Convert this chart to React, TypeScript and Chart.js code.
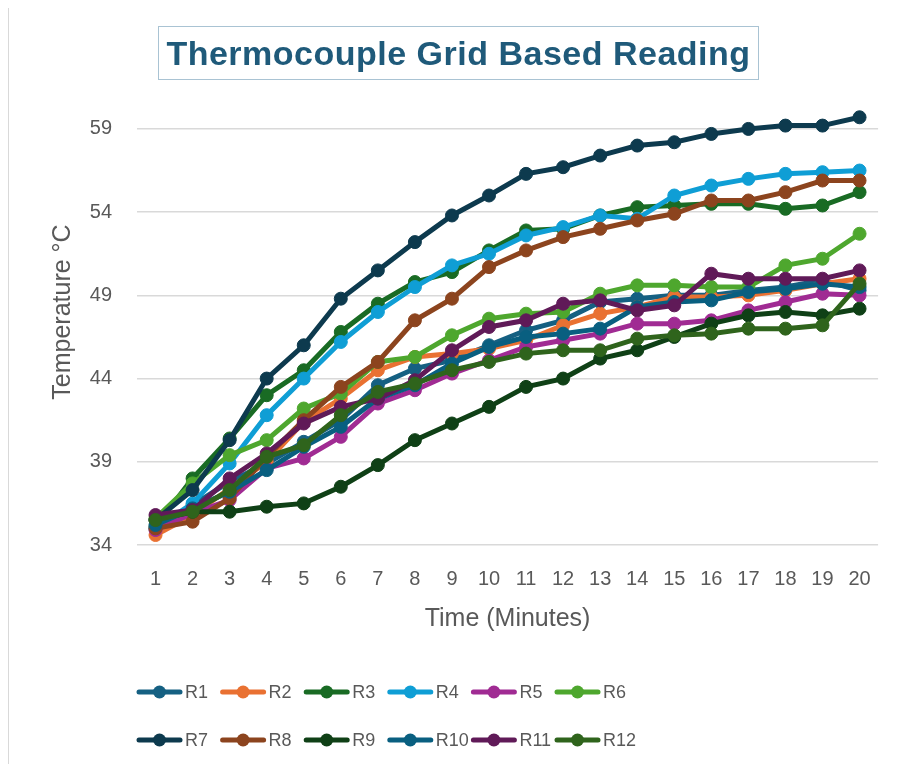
import React, { useEffect, useRef } from "react";
import { Chart, registerables } from "chart.js";

Chart.register(...registerables);

const minutes: string[] = ["1", "2", "3", "4", "5", "6", "7", "8", "9", "10", "11", "12", "13", "14", "15", "16", "17", "18", "19", "20"];

const yTickValues: number[] = [34, 39, 44, 49, 54, 59];

const seriesNames: string[] = ["R1", "R2", "R3", "R4", "R5", "R6", "R7", "R8", "R9", "R10", "R11", "R12"];

const seriesColors: string[] = [
  "#156082", "#E97132", "#196B24", "#0F9ED5", "#A02B93", "#4EA72E",
  "#0D3A4E", "#8C441E", "#0F4016", "#095F80", "#601A58", "#2F641C",
];

const R1: number[] = [35.0, 36.4, 37.8, 38.9, 40.2, 41.5, 43.6, 44.6, 45.1, 46.0, 46.9, 47.5, 48.6, 48.8, 49.0, 49.0, 49.3, 49.5, 49.9, 49.3];
const R2: number[] = [34.6, 35.8, 37.4, 39.0, 41.4, 42.8, 44.5, 45.3, 45.5, 45.8, 46.3, 47.2, 47.9, 48.3, 48.9, 48.9, 49.0, 49.3, 49.7, 50.0];
const R3: number[] = [35.1, 38.0, 40.4, 43.0, 44.5, 46.8, 48.5, 49.8, 50.4, 51.7, 52.9, 53.0, 53.8, 54.3, 54.4, 54.5, 54.5, 54.2, 54.4, 55.2];
const R4: number[] = [35.0, 36.5, 38.9, 41.8, 44.0, 46.2, 48.0, 49.5, 50.8, 51.5, 52.6, 53.1, 53.8, 53.6, 55.0, 55.6, 56.0, 56.3, 56.4, 56.5];
const R5: number[] = [34.9, 35.9, 36.7, 38.6, 39.2, 40.5, 42.5, 43.3, 44.3, 45.1, 45.9, 46.3, 46.7, 47.3, 47.3, 47.5, 48.1, 48.6, 49.1, 49.0];
const R6: number[] = [35.6, 37.7, 39.4, 40.3, 42.2, 43.1, 45.0, 45.3, 46.6, 47.6, 47.9, 48.0, 49.1, 49.6, 49.6, 49.5, 49.5, 50.8, 51.2, 52.7];
const R7: number[] = [35.5, 37.3, 40.3, 44.0, 46.0, 48.8, 50.5, 52.2, 53.8, 55.0, 56.3, 56.7, 57.4, 58.0, 58.2, 58.7, 59.0, 59.2, 59.2, 59.7];
const R8: number[] = [35.0, 35.4, 36.8, 39.3, 41.5, 43.5, 45.0, 47.5, 48.8, 50.7, 51.7, 52.5, 53.0, 53.5, 53.9, 54.7, 54.7, 55.2, 55.9, 55.9];
const R9: number[] = [35.5, 36.0, 36.0, 36.3, 36.5, 37.5, 38.8, 40.3, 41.3, 42.3, 43.5, 44.0, 45.2, 45.7, 46.5, 47.3, 47.8, 48.0, 47.8, 48.2];
const R10: number[] = [35.2, 36.2, 37.2, 38.5, 39.9, 41.1, 42.8, 43.6, 44.9, 45.9, 46.5, 46.7, 47.0, 48.3, 48.6, 48.7, 49.2, 49.4, 49.7, 49.5];
const R11: number[] = [35.8, 36.1, 38.0, 39.5, 41.3, 42.3, 42.8, 43.9, 45.7, 47.1, 47.5, 48.5, 48.7, 48.1, 48.4, 50.3, 50.0, 50.0, 50.0, 50.5];
const R12: number[] = [35.5, 36.0, 37.3, 39.3, 40.0, 41.8, 43.2, 43.7, 44.5, 45.0, 45.5, 45.7, 45.7, 46.4, 46.6, 46.7, 47.0, 47.0, 47.2, 49.7];

const seriesValues: number[][] = [R1, R2, R3, R4, R5, R6, R7, R8, R9, R10, R11, R12];

const FONT = '"Liberation Sans", Arial, sans-serif';

const excelLegend = {
  id: "excelLegend",
  afterDraw(chart: any) {
    const ctx = chart.ctx as CanvasRenderingContext2D;
    const left = chart.chartArea.left;
    const colStep = 83.6;
    chart.data.datasets.forEach((ds: any, i: number) => {
      const row = Math.floor(i / 6);
      const col = i % 6;
      const x = left + col * colStep;
      const y = 684 + row * 48;
      ctx.save();
      ctx.strokeStyle = ds.borderColor;
      ctx.lineWidth = 5;
      ctx.lineCap = "round";
      ctx.beginPath();
      ctx.moveTo(x + 2, y);
      ctx.lineTo(x + 43, y);
      ctx.stroke();
      ctx.fillStyle = ds.borderColor;
      ctx.beginPath();
      ctx.arc(x + 22.5, y, 6.5, 0, Math.PI * 2);
      ctx.fill();
      ctx.font = `18px ${FONT}`;
      ctx.fillStyle = "#595959";
      ctx.textBaseline = "middle";
      ctx.textAlign = "left";
      ctx.fillText(ds.label, x + 48, y + 1);
      ctx.restore();
    });
  },
};

export default function App() {
  const canvasRef = useRef<HTMLCanvasElement | null>(null);

  useEffect(() => {
    if (!canvasRef.current) return;
    const chart = new Chart(canvasRef.current, {
      type: "line",
      data: {
        labels: minutes,
        datasets: seriesNames.map((name, i) => ({
          label: name,
          data: seriesValues[i],
          borderColor: seriesColors[i],
          backgroundColor: seriesColors[i],
          pointBackgroundColor: seriesColors[i],
          pointBorderColor: seriesColors[i],
          borderWidth: 5,
          pointRadius: 6.5,
          pointBorderWidth: 1,
          tension: 0,
          order: seriesNames.length - i,
        })),
      },
      options: {
        responsive: false,
        animation: false,
        devicePixelRatio: 1,
        layout: { padding: { left: 36, top: 71, right: 13, bottom: 126 } },
        plugins: {
          legend: { display: false },
          title: { display: false },
          tooltip: { enabled: false },
        },
        scales: {
          x: {
            type: "category",
            offset: true,
            afterFit: (scale: any) => {
              scale.height = 93;
            },
            grid: { display: false, drawTicks: false },
            border: { display: false },
            ticks: { color: "#595959", font: { size: 20, family: FONT }, padding: 22, maxRotation: 0, autoSkip: false },
            title: {
              display: true,
              text: "Time (Minutes)",
              color: "#595959",
              font: { size: 25, family: FONT },
              padding: { top: 4, bottom: 4 },
            },
          },
          y: {
            type: "linear",
            min: 34,
            max: 62,
            afterBuildTicks: (scale: any) => {
              scale.ticks = yTickValues.map((v) => ({ value: v }));
            },
            afterFit: (scale: any) => {
              scale.width = 93;
            },
            grid: { color: "#d9d9d9", lineWidth: 1.5, drawTicks: false },
            border: { display: false },
            ticks: { color: "#595959", font: { size: 20, family: FONT }, padding: 25 },
            title: {
              display: true,
              text: "Temperature °C",
              color: "#595959",
              font: { size: 25, family: FONT },
              padding: { top: 4, bottom: 4 },
            },
          },
        },
      },
      plugins: [excelLegend],
    });
    return () => chart.destroy();
  }, []);

  return (
    <div style={{ position: "relative", width: 885, height: 756 }}>
      <div style={{ position: "absolute", left: 0, top: 0, width: 1, height: 756, background: "#d9d9d9" }} />
      <canvas ref={canvasRef} width={885} height={756} style={{ display: "block" }} />
      <div
        style={{
          position: "absolute",
          left: 150,
          top: 18,
          width: 601,
          height: 54,
          boxSizing: "border-box",
          border: "1.5px solid #a9c3d3",
          display: "flex",
          alignItems: "center",
          justifyContent: "center",
          fontFamily: FONT,
          fontWeight: "bold",
          fontSize: 34,
          letterSpacing: 0.5,
          color: "#1f5a7a",
          whiteSpace: "nowrap",
        }}
      >
        Thermocouple Grid Based Reading
      </div>
    </div>
  );
}
